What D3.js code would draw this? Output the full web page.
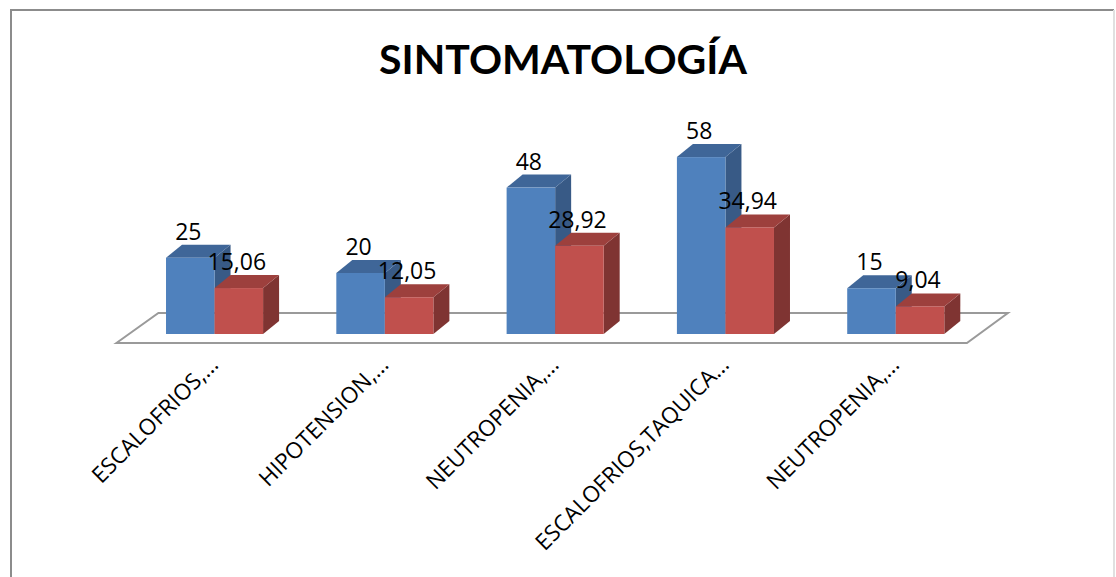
<!DOCTYPE html>
<html lang="es">
<head>
<meta charset="UTF-8">
<title>Sintomatología</title>
<script src="https://d3js.org/d3.v7.min.js"></script>
<style>
  body { margin: 0; background: #fff; }
  text { font-family: "Open Sans", sans-serif; fill: #000; }
</style>
</head>
<body>
<script>
    var categories = ["ESCALOFRIOS,…", "HIPOTENSION,…", "NEUTROPENIA,…", "ESCALOFRIOS,TAQUICA…", "NEUTROPENIA,…"];
    var seriesA = [25, 20, 48, 58, 15];
    var seriesB = [15.06, 12.05, 28.92, 34.94, 9.04];

    var width = 1116, height = 577;
    var depthX = 16, depthY = 13;

    var colors = [
        {front: "#4f81bd", top: "#3f6698", side: "#385a86"},
        {front: "#c0504d", top: "#9d403d", side: "#7f3432"}
    ];

    var svg = d3.select("body").append("svg")
        .attr("width", width)
        .attr("height", height);

    // outer frame (right edge is faint in the original)
    svg.append("path")
        .attr("d", "M11,600 L11,10 L1114,10")
        .attr("fill", "none")
        .attr("stroke", "#8c8c8c")
        .attr("stroke-width", 2);
    svg.append("line")
        .attr("x1", 1114).attr("y1", 10).attr("x2", 1114).attr("y2", 600)
        .attr("stroke", "#e0e0e0")
        .attr("stroke-width", 2);

    svg.append("text")
        .attr("x", 563).attr("y", 74)
        .attr("text-anchor", "middle")
        .style("font-family", "Lato, sans-serif")
        .style("font-weight", "bold")
        .style("font-size", "41px")
        .text("SINTOMATOLOGÍA");

    var x = d3.scaleBand()
        .domain(d3.range(categories.length))
        .range([129.4, 980.9])
        .paddingInner(0.43)
        .paddingOuter(0.215);

    var xs = d3.scaleBand()
        .domain([0, 1])
        .range([0, x.bandwidth()]);

    var y = d3.scaleLinear()
        .domain([0, 60])
        .range([334, 151]);

    var fmt = d3.formatLocale({decimal: ",", thousands: ".", grouping: [3], currency: ["", ""]}).format("~");

    // floor
    var fl = x.range()[0] - 13, fr = x.range()[1] - 14;
    svg.append("path")
        .attr("d", "M" + fl + ",343 L" + (fl + 42) + ",313 L" + (fr + 41) + ",313 L" + fr + ",343 Z")
        .attr("fill", "none")
        .attr("stroke", "#9a9a9a")
        .attr("stroke-width", 2);

    var bars = [];
    categories.forEach(function (c, i) {
        [seriesA[i], seriesB[i]].forEach(function (v, s) {
            bars.push({i: i, s: s, v: v});
        });
    });

    var g = svg.selectAll(".bar")
        .data(bars)
        .enter().append("g")
        .attr("class", "bar");

    function geom(d) {
        var x0 = x(d.i) + xs(d.s), x1 = x0 + xs.bandwidth();
        return {x0: x0, x1: x1, yt: y(d.v), yb: y(0)};
    }

    g.append("path")
        .attr("fill", function (d) { return colors[d.s].side; })
        .attr("d", function (d) {
            var b = geom(d);
            return "M" + b.x1 + "," + b.yt + " L" + (b.x1 + depthX) + "," + (b.yt - depthY) +
                " L" + (b.x1 + depthX) + "," + (b.yb - depthY) + " L" + b.x1 + "," + b.yb + " Z";
        });
    g.append("path")
        .attr("fill", function (d) { return colors[d.s].top; })
        .attr("d", function (d) {
            var b = geom(d);
            return "M" + b.x0 + "," + b.yt + " L" + (b.x0 + depthX) + "," + (b.yt - depthY) +
                " L" + (b.x1 + depthX) + "," + (b.yt - depthY) + " L" + b.x1 + "," + b.yt + " Z";
        });
    g.append("rect")
        .attr("fill", function (d) { return colors[d.s].front; })
        .attr("x", function (d) { return geom(d).x0; })
        .attr("y", function (d) { return geom(d).yt; })
        .attr("width", xs.bandwidth())
        .attr("height", function (d) { return y(0) - y(d.v); });

    svg.selectAll(".val")
        .data(bars)
        .enter().append("text")
        .attr("class", "val")
        .attr("x", function (d) { return x(d.i) + xs(d.s) + xs.bandwidth() / 2 - 2; })
        .attr("y", function (d) { return y(d.v) - depthY - 5; })
        .attr("text-anchor", "middle")
        .style("font-size", "23px")
        .text(function (d) { return fmt(d.v); });

    svg.selectAll(".cat")
        .data(categories)
        .enter().append("text")
        .attr("class", "cat")
        .attr("text-anchor", "end")
        .style("font-size", "22.5px")
        .attr("transform", function (d, i) {
            return "translate(" + (x(i) + x.bandwidth() / 2 + 5) + ",366) rotate(-45)";
        })
        .text(function (d) { return d; });
</script>
</body>
</html>
